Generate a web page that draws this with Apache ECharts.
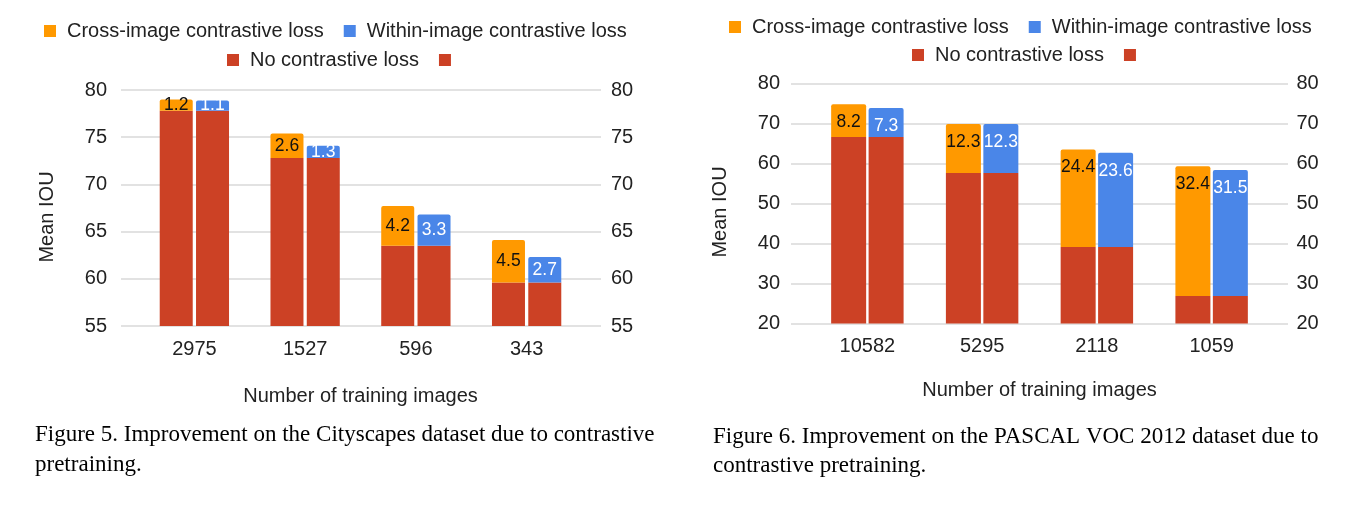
<!DOCTYPE html>
<html>
<head>
<meta charset="utf-8">
<script src="https://cdn.jsdelivr.net/npm/echarts@6/dist/echarts.min.js"></script>
<style>
html,body{margin:0;padding:0;background:#fff;}
#c{width:1371px;height:508px;}
</style>
</head>
<body>
<div id="c"></div>
<script>
// ---- Figure 5: Cityscapes ----
const cats1 = ['2975', '1527', '596', '343'];
const base1 = [77.8, 72.8, 63.5, 59.6];
const cross1 = [1.2, 2.6, 4.2, 4.5];
const within1 = [1.1, 1.3, 3.3, 2.7];
// ---- Figure 6: PASCAL VOC 2012 ----
const cats2 = ['10582', '5295', '2118', '1059'];
const base2 = [66.6, 57.6, 39.1, 26.9];
const cross2 = [8.2, 12.3, 24.4, 32.4];
const within2 = [7.3, 12.3, 23.6, 31.5];

const names = {
  cross: 'Cross-image contrastive loss',
  within: 'Within-image contrastive loss',
  none: 'No contrastive loss',
  dup: ' '
};
const RED = '#CC4125', ORANGE = '#FF9900', BLUE = '#4A86E8';
const FONT = '"Liberation Sans", Arial, sans-serif';
const TXT = '#222';
const GRID = '#d9d9d9';

function legend(data, left, top) {
  return {
    data: data, left: left, top: top, orient: 'horizontal', padding: 0,
    icon: 'rect', itemWidth: 12, itemHeight: 12, itemGap: 20,
    selectedMode: false,
    textStyle: {fontSize: 20, fontFamily: FONT, color: TXT, padding: [0, 0, 0, 6]}
  };
}

function yAxisLine(grid, min, max, interval, pos, margin, split) {
  return {
    type: 'value', gridIndex: grid, position: pos, min: min, max: max, interval: interval,
    axisLine: {show: false}, axisTick: {show: false},
    axisLabel: {fontSize: 20, fontFamily: FONT, color: TXT, margin: margin},
    splitLine: {show: split, lineStyle: {color: GRID, width: 1.5}}
  };
}
function yAxisHidden(grid, min, max) {
  return {type: 'value', gridIndex: grid, min: min, max: max, show: false, splitLine: {show: false}};
}

function barSeries(name, xi, yi, stack, data, color, width, gap, label) {
  const top = name === names.cross || name === names.within;
  return {
    type: 'bar', name: name, xAxisIndex: xi, yAxisIndex: yi, stack: stack,
    data: data, barWidth: width, barGap: gap,
    itemStyle: {color: color, borderRadius: top ? [2, 2, 0, 0] : 0},
    label: label || {show: false},
    z: 2
  };
}

function lab(pos, color, dist) {
  const l = {show: true, position: pos, fontSize: 17.5, fontFamily: FONT, color: color};
  if (dist !== undefined) l.distance = dist;
  return l;
}

const chart = echarts.init(document.getElementById('c'), null, {renderer: 'canvas'});
chart.setOption({
  animation: false,
  backgroundColor: '#fff',
  legend: [
    legend([names.cross, names.within], 44, 21),
    legend([names.none, names.dup], 227, 50),
    legend([names.cross, names.within], 729, 17),
    legend([names.none, names.dup], 912, 45)
  ],
  grid: [
    {left: 121, top: 90, width: 480, height: 236},
    {left: 139, top: 90, width: 443, height: 236},
    {left: 791, top: 83.5, width: 497, height: 240},
    {left: 810, top: 83.5, width: 459, height: 240}
  ],
  xAxis: [
    {type: 'category', gridIndex: 0, data: cats1, show: false},
    {type: 'category', gridIndex: 1, data: cats1,
      axisLine: {show: false}, axisTick: {show: false},
      axisLabel: {fontSize: 20, fontFamily: FONT, color: TXT, margin: 13},
      name: 'Number of training images', nameLocation: 'middle', nameGap: 60,
      nameTextStyle: {fontSize: 20, fontFamily: FONT, color: TXT}},
    {type: 'category', gridIndex: 2, data: cats2, show: false},
    {type: 'category', gridIndex: 3, data: cats2,
      axisLine: {show: false}, axisTick: {show: false},
      axisLabel: {fontSize: 20, fontFamily: FONT, color: TXT, margin: 13},
      name: 'Number of training images', nameLocation: 'middle', nameGap: 57,
      nameTextStyle: {fontSize: 20, fontFamily: FONT, color: TXT}}
  ],
  yAxis: [
    yAxisLine(0, 55, 80, 5, 'left', 14, true),
    yAxisLine(0, 55, 80, 5, 'right', 10, false),
    yAxisHidden(1, 55, 80),
    yAxisLine(2, 20, 80, 10, 'left', 11, true),
    yAxisLine(2, 20, 80, 10, 'right', 8.5, false),
    yAxisHidden(3, 20, 80)
  ],
  series: [
    barSeries(names.none, 1, 2, 'f5a', base1, RED, 33, '10%'),
    barSeries(names.cross, 1, 2, 'f5a', cross1, ORANGE, 33, '10%', lab('inside', '#111')),
    barSeries(names.dup, 1, 2, 'f5b', base1, RED, 33, '10%'),
    barSeries(names.within, 1, 2, 'f5b', within1, BLUE, 33, '10%', lab('inside', '#fff')),
    barSeries(names.none, 3, 5, 'f6a', base2, RED, 35, '7%'),
    barSeries(names.cross, 3, 5, 'f6a', cross2, ORANGE, 35, '7%', lab('insideTop', '#111', 9)),
    barSeries(names.dup, 3, 5, 'f6b', base2, RED, 35, '7%'),
    barSeries(names.within, 3, 5, 'f6b', within2, BLUE, 35, '7%', lab('insideTop', '#fff', 9))
  ],
  graphic: [
    {type: 'text', x: 47, y: 217, rotation: Math.PI / 2,
      style: {text: 'Mean IOU', font: '20px ' + FONT, fill: TXT, align: 'center', verticalAlign: 'middle'}},
    {type: 'text', x: 720, y: 212, rotation: Math.PI / 2,
      style: {text: 'Mean IOU', font: '20px ' + FONT, fill: TXT, align: 'center', verticalAlign: 'middle'}},
    {type: 'text', x: 35, y: 435,
      style: {text: 'Figure 5. Improvement on the Cityscapes dataset due to contrastive', font: '23px "Liberation Serif", "Times New Roman", serif', fill: '#000', align: 'left', verticalAlign: 'middle'}},
    {type: 'text', x: 35, y: 465,
      style: {text: 'pretraining.', font: '23px "Liberation Serif", "Times New Roman", serif', fill: '#000', align: 'left', verticalAlign: 'middle'}},
    {type: 'text', x: 713, y: 437,
      style: {text: 'Figure 6. Improvement on the PASCAL VOC 2012 dataset due to', font: '23px "Liberation Serif", "Times New Roman", serif', fill: '#000', align: 'left', verticalAlign: 'middle'}},
    {type: 'text', x: 713, y: 466,
      style: {text: 'contrastive pretraining.', font: '23px "Liberation Serif", "Times New Roman", serif', fill: '#000', align: 'left', verticalAlign: 'middle'}}
  ]
});
</script>
</body>
</html>
